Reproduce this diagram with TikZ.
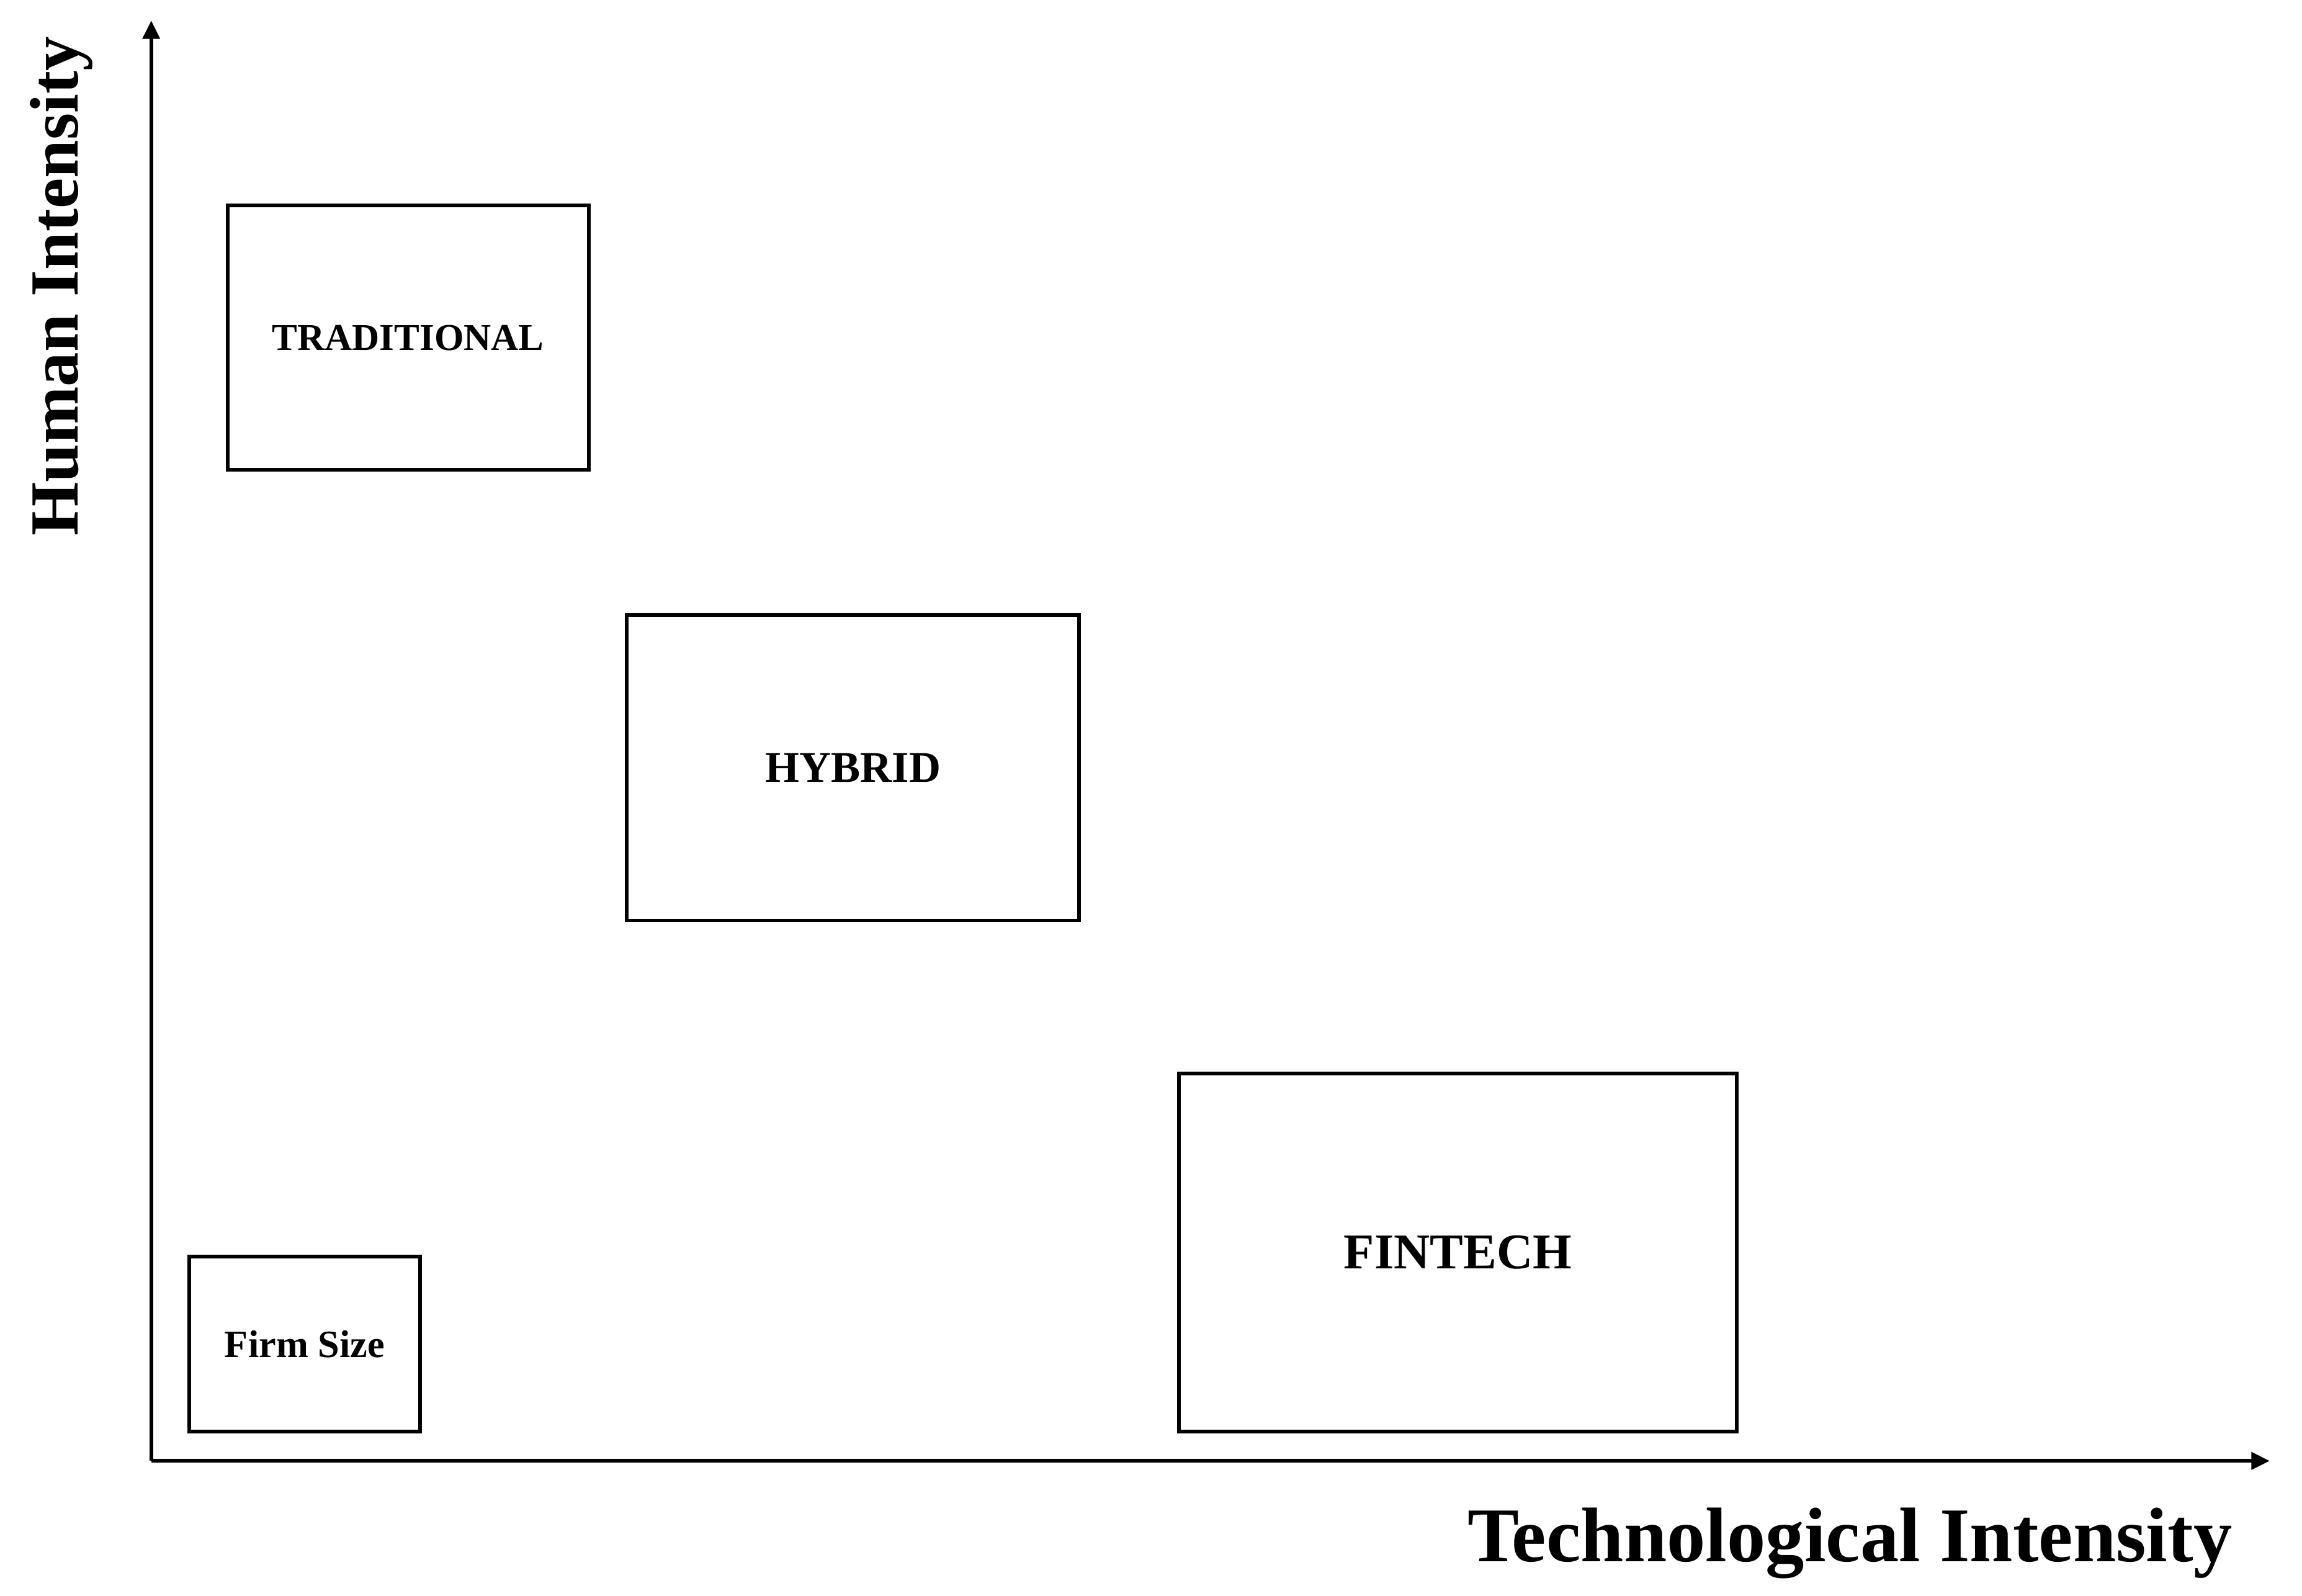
\documentclass[tikz,border=0pt]{standalone}
\usepackage{fontspec}
\setmainfont{Liberation Serif}
\usetikzlibrary{arrows.meta}
\begin{document}
\begin{tikzpicture}[x=0.02cm,y=-0.02cm,
  quad/.style={draw=black,line width=1.4pt,inner sep=0pt,font=\bfseries},
  axis/.style={line width=1.5pt,-{Triangle[length=0.25cm,width=0.23cm]}},
  axlabel/.style={font=\fontsize{30}{35}\selectfont\bfseries,inner sep=0pt}]
\useasboundingbox (0,0) rectangle (1568,1087);
\coordinate (O) at (103,995);
\coordinate (ytip) at (103,14);
\coordinate (xtip) at (1546,995);
\draw[axis] (O) -- (ytip);
\draw[axis] (O) -- (xtip);
\node[quad,minimum width=246*0.02cm,minimum height=180*0.02cm,font=\fontsize{14.7}{17}\selectfont\bfseries] (trad) at (278,230) {TRADITIONAL};
\node[quad,minimum width=308*0.02cm,minimum height=208*0.02cm,font=\fontsize{17}{20}\selectfont\bfseries] (hyb) at (581,523) {HYBRID};
\node[quad,minimum width=380*0.02cm,minimum height=244*0.02cm,font=\fontsize{19.4}{23}\selectfont\bfseries] (fin) at (993,853) {FINTECH};
\node[quad,minimum width=157*0.02cm,minimum height=119*0.02cm,font=\fontsize{15}{18}\selectfont\bfseries] (firm) at (207.5,915.5) {Firm Size};
\node[axlabel] (xlab) at (1260,1051) {Technological Intensity};
\node[axlabel,font=\fontsize{26.7}{31}\selectfont\bfseries,rotate=90] (ylab) at (42,195) {Human Intensity};
\end{tikzpicture}
\end{document}
